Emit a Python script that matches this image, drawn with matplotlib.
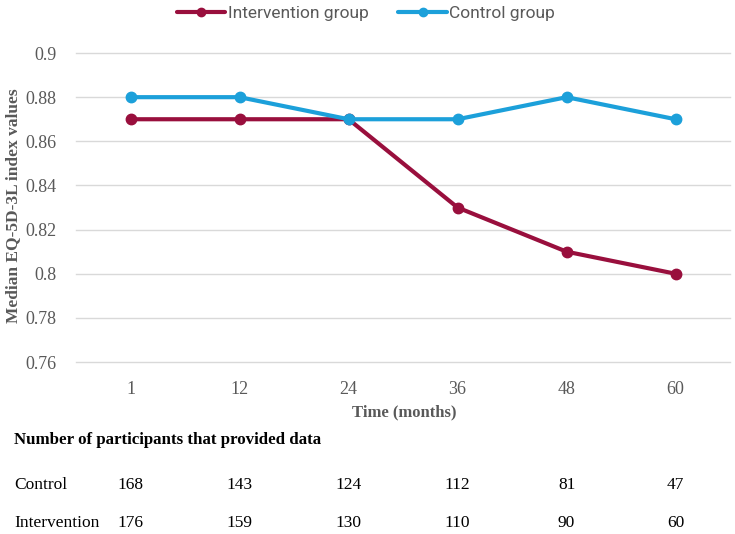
import matplotlib
matplotlib.use("Agg")
import matplotlib.pyplot as plt

# data
months = ["1", "12", "24", "36", "48", "60"]
intervention = [0.87, 0.87, 0.87, 0.83, 0.81, 0.80]
control = [0.88, 0.88, 0.87, 0.87, 0.88, 0.87]
yticks = [0.76, 0.78, 0.8, 0.82, 0.84, 0.86, 0.88, 0.9]
ytick_labels = ["0.76", "0.78", "0.8", "0.82", "0.84", "0.86", "0.88", "0.9"]
n_control = [168, 143, 124, 112, 81, 47]
n_intervention = [176, 159, 130, 110, 90, 60]

serif = ["Liberation Serif", "DejaVu Serif"]
sans = ["Roboto", "DejaVu Sans"]
gray = "#595959"

fig = plt.figure(figsize=(7.35, 5.34), dpi=100)
ax = fig.add_axes([0.1034, 0.322, 0.890, 0.5787])

x = range(len(months))
ax.plot(x, intervention, color="#990F3D", lw=3, marker="o", ms=7.5,
        label="Intervention group", solid_capstyle="round")
ax.plot(x, control, color="#1CA0DA", lw=3, marker="o", ms=7.5,
        label="Control group", solid_capstyle="round")

ax.set_xlim(-0.5, len(months) - 0.5)
ax.set_ylim(0.76, 0.9)
ax.set_xticks(list(x))
ax.set_xticklabels(months, fontfamily=serif, fontsize=13, color=gray)
ax.set_yticks(yticks)
ax.set_yticklabels(ytick_labels, fontfamily=serif, fontsize=13, color=gray)
ax.tick_params(axis="y", length=0, pad=14)
ax.tick_params(axis="x", length=0, pad=14)
ax.grid(axis="y", color="#D9D9D9", lw=1)
for gl in ax.get_ygridlines():
    gl.set_clip_on(False)
ax.set_axisbelow(True)
for s in ax.spines.values():
    s.set_visible(False)

H = 534.0
W = 735.0
fig.text(404 / W, 1 - 412 / H, "Time (months)", ha="center", va="center",
         fontfamily=serif, fontweight="bold", fontsize=12, color=gray)
fig.text(13 / W, 1 - 206 / H, "Median EQ-5D-3L index values", rotation=90,
         ha="center", va="center", fontfamily=serif, fontweight="bold",
         fontsize=12.5, color=gray)

leg = fig.legend(loc="center", bbox_to_anchor=(366 / W, 1 - 13 / H), ncol=2,
                 frameon=False, prop={"family": sans, "size": 12.5},
                 handlelength=2.8, handletextpad=0.15, columnspacing=1.7,
                 labelcolor=gray, markerscale=0.8)

# participants table
fig.text(14 / W, 1 - 440 / H, "Number of participants that provided data",
         fontfamily=serif, fontweight="bold", fontsize=12.2, va="center",
         ha="left")
rows = [("Control", n_control, 485), ("Intervention", n_intervention, 523)]
for name, vals, yy in rows:
    fig.text(14 / W, 1 - yy / H, name, fontfamily=serif, fontsize=12.5,
             va="center", ha="left")
    for i, v in enumerate(vals):
        # numbers sit under the month ticks
        ax.annotate(str(v), xy=(i, 0), xycoords=("data", "figure fraction"),
                    xytext=(0, H - yy), textcoords="offset pixels",
                    fontfamily=serif, fontsize=12.5, va="center", ha="center",
                    annotation_clip=False)

fig.savefig("out.png", dpi=100)
